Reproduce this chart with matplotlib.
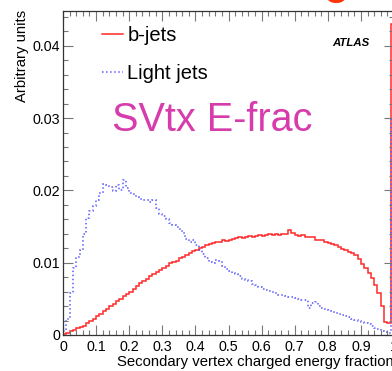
import numpy as np
import matplotlib
matplotlib.use("Agg")
import matplotlib.pyplot as plt
from matplotlib.ticker import MultipleLocator, FixedLocator, FixedFormatter

plt.rcParams['font.family'] = ['Liberation Sans', 'DejaVu Sans']

# 100 bins of width 0.01 over [0, 1]
bin_edges = np.linspace(0.0, 1.0, 101)

b_jets = [
    0.0002, 0.0003, 0.0005, 0.0007, 0.0009, 0.0011, 0.0013, 0.0016, 0.0019, 0.0022,
    0.0026, 0.0029, 0.0033, 0.0036, 0.0040, 0.0043, 0.0047, 0.0050, 0.0054, 0.0057,
    0.0060, 0.0064, 0.0068, 0.0072, 0.0075, 0.0078, 0.0082, 0.0085, 0.0087, 0.0090,
    0.0093, 0.0096, 0.0099, 0.0101, 0.0103, 0.0106, 0.0108, 0.0111, 0.0113, 0.0116,
    0.0118, 0.0120, 0.0122, 0.0124, 0.0126, 0.0127, 0.0128, 0.0129, 0.0131, 0.0130,
    0.0132, 0.0133, 0.0134, 0.0135, 0.0134, 0.0136, 0.0137, 0.0136, 0.0137, 0.0138,
    0.0137, 0.0138, 0.0139, 0.0138, 0.0139, 0.0138, 0.0140, 0.0139, 0.0145, 0.0141,
    0.0138, 0.0137, 0.0138, 0.0136, 0.0135, 0.0135, 0.0132, 0.0131, 0.0131, 0.0129,
    0.0127, 0.0126, 0.0124, 0.0122, 0.0119, 0.0117, 0.0115, 0.0113, 0.0110, 0.0105,
    0.0098, 0.0092, 0.0086, 0.0079, 0.0069, 0.0058, 0.0040, 0.0018, 0.0016, 0.0430,
]

light_jets = [
    0.0005, 0.0022, 0.0058, 0.0092, 0.0108, 0.0118, 0.0140, 0.0162, 0.0172, 0.0178,
    0.0186, 0.0196, 0.0209, 0.0207, 0.0204, 0.0199, 0.0208, 0.0200, 0.0214, 0.0203,
    0.0197, 0.0195, 0.0191, 0.0188, 0.0187, 0.0186, 0.0184, 0.0186, 0.0176, 0.0167,
    0.0164, 0.0160, 0.0155, 0.0152, 0.0150, 0.0146, 0.0141, 0.0133, 0.0128, 0.0132,
    0.0124, 0.0118, 0.0112, 0.0107, 0.0101, 0.0100, 0.0104, 0.0102, 0.0096, 0.0091,
    0.0089, 0.0086, 0.0085, 0.0081, 0.0077, 0.0076, 0.0074, 0.0070, 0.0069, 0.0066,
    0.0064, 0.0062, 0.0061, 0.0059, 0.0058, 0.0056, 0.0055, 0.0054, 0.0053, 0.0052,
    0.0051, 0.0050, 0.0049, 0.0048, 0.0038, 0.0044, 0.0046, 0.0040, 0.0037, 0.0036,
    0.0034, 0.0033, 0.0031, 0.0029, 0.0028, 0.0026, 0.0025, 0.0022, 0.0021, 0.0019,
    0.0018, 0.0017, 0.0015, 0.0013, 0.0010, 0.0008, 0.0006, 0.0004, 0.0003, 0.0302,
]

x_ticks = [0, 0.1, 0.2, 0.3, 0.4, 0.5, 0.6, 0.7, 0.8, 0.9, 1.0]
x_tick_labels = ['0', '0.1', '0.2', '0.3', '0.4', '0.5', '0.6', '0.7', '0.8', '0.9', '1']
y_ticks = [0, 0.01, 0.02, 0.03, 0.04]
y_tick_labels = ['0', '0.01', '0.02', '0.03', '0.04']

fig = plt.figure(figsize=(3.92, 3.71), dpi=100)
ax = fig.add_axes([63 / 392, 36 / 371, 331 / 392, 324 / 371])

ax.stairs(b_jets, bin_edges, color='#ff2a2a', lw=1.1, label='b-jets')
ax.stairs(light_jets, bin_edges, color='#5a5aff', lw=1.1, ls=':', label='Light jets')

ax.set_xlim(0, 1.0)
ax.set_ylim(0, 0.0448)

ax.xaxis.set_major_locator(FixedLocator(x_ticks))
ax.xaxis.set_major_formatter(FixedFormatter(x_tick_labels))
ax.xaxis.set_minor_locator(MultipleLocator(0.02))
ax.yaxis.set_major_locator(FixedLocator(y_ticks))
ax.yaxis.set_major_formatter(FixedFormatter(y_tick_labels))
ax.yaxis.set_minor_locator(MultipleLocator(0.002))

ax.tick_params(which='both', direction='in', top=True, right=True, color='#777777')
ax.tick_params(which='major', length=7, width=0.8, labelsize=10.3)
ax.tick_params(which='minor', length=3.5, width=0.8)
ax.tick_params(axis='y', pad=2)
for s in ax.spines.values():
    s.set_color('#333333')
    s.set_linewidth(0.9)

ax.set_xlabel('Secondary vertex charged energy fraction', fontsize=10.7, loc='right')
ax.xaxis.label.set_va('center')
ax.xaxis.set_label_coords(1.0, -27 / 324)
fig.text(22 / 392, 361 / 371, 'Arbitrary units', rotation=90, ha='center', va='top',
         fontsize=10.7)

ax.legend(loc='upper left', bbox_to_anchor=(0.118, 0.955), frameon=False,
          fontsize=14.5, handlelength=1.05, handletextpad=0.2, labelspacing=0.95,
          borderpad=0, borderaxespad=0)

ax.text(0.148, 0.664, 'SVtx E-frac', transform=ax.transAxes, fontsize=28.5,
        color='#d63cab', ha='left', va='center')
ax.text(0.813, 0.901, 'ATLAS', transform=ax.transAxes, fontsize=8.2,
        fontweight='bold', fontstyle='italic', ha='left', va='center')

# bottom of the slide title letter cut off at the top edge
fig.text(336 / 392, 1.017, 'g', fontsize=30, fontweight='bold', color='#ff3300',
         ha='center', va='baseline')

fig.savefig('out.png', dpi=100)
